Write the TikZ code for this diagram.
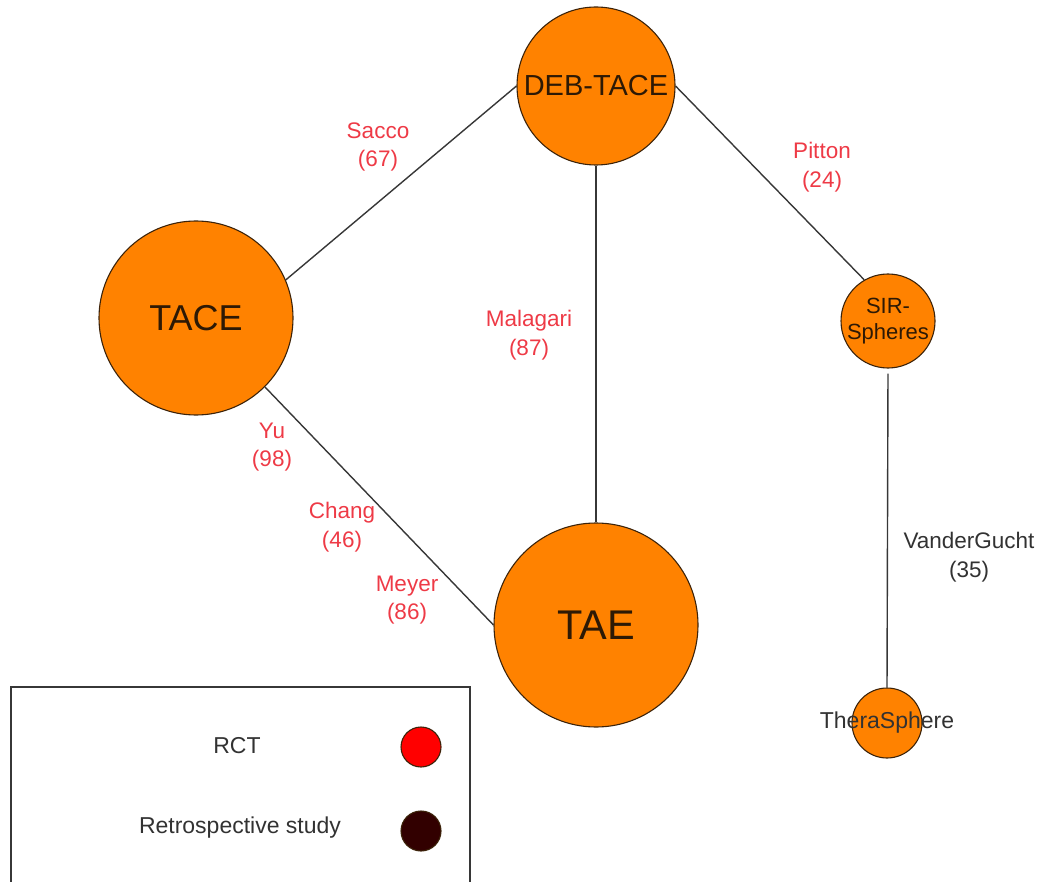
\documentclass[tikz,border=0pt]{standalone}
\usepackage{fontspec}
\setmainfont{Liberation Sans}
\definecolor{nodeorange}{RGB}{255,130,0}
\definecolor{nodeborder}{RGB}{60,35,10}
\definecolor{nodetext}{RGB}{45,25,5}
\definecolor{labred}{RGB}{238,58,70}
\definecolor{edgegray}{RGB}{55,55,55}
\definecolor{legtext}{RGB}{50,50,50}
\definecolor{retro}{RGB}{50,0,0}
\tikzset{
  bubble/.style={circle, fill=nodeorange, draw=nodeborder, line width=1.1pt, inner sep=0pt},
  bubtext/.style={text=nodetext, align=center, inner sep=0pt},
  edgelab/.style={text=labred, align=center, font=\fontsize{22.5}{28.5}\selectfont, inner sep=0pt},
  conn/.style={draw=edgegray, line width=1.4pt},
  legcirc/.style={circle, draw=nodeborder, line width=1.1pt, minimum size=40pt, inner sep=0pt},
  legtxt/.style={text=legtext, font=\fontsize{23}{26}\selectfont, inner sep=0pt}
}
\begin{document}
\begin{tikzpicture}[x=1pt,y=-1pt]
\useasboundingbox (0,0) rectangle (1043,882);
% nodes
\node[bubble, minimum size=158pt] (deb) at (596,86) {};
\node[bubble, minimum size=194pt] (tace) at (196,318) {};
\node[bubble, minimum size=204pt] (tae) at (596,625) {};
\node[bubble, minimum size=94pt] (sir) at (888,321) {};
\node[bubble, minimum size=70pt] (thera) at (887,723) {};
% node texts
\node[bubtext, font=\fontsize{29}{31}\selectfont] (debt) at (deb) {DEB-TACE};
\node[bubtext, font=\fontsize{36}{38}\selectfont] (tacet) at (tace) {TACE};
\node[bubtext, font=\fontsize{41.5}{44}\selectfont] (taet) at (tae) {TAE};
\node[bubtext, font=\fontsize{22}{25.5}\selectfont] (sirt) at (sir) {SIR-\\Spheres};
\node[bubtext, text=legtext, font=\fontsize{23}{25}\selectfont] (therat) at (thera) {TheraSphere};
% connectors
\draw[conn] (tace.23) -- (deb.west);
\draw[conn] (deb.east) -- (sir.120);
\draw[conn] (deb.south) -- (tae.north);
\draw[conn] (tace.-45) -- (tae.west);
\draw[conn, shorten <=5pt] (sir.south) -- (thera.north);
% edge labels
\node[edgelab] (lsacco) at (378,147) {Sacco\\(67)};
\node[edgelab] (lpitton) at (822,167) {Pitton\\(24)};
\node[edgelab] (lmalagari) at (529,335) {Malagari\\(87)};
\node[edgelab] (lyu) at (272,447) {Yu\\(98)};
\node[edgelab] (lchang) at (342,527) {Chang\\(46)};
\node[edgelab] (lmeyer) at (407,600) {Meyer\\(86)};
\node[edgelab, text=legtext] (lvander) at (969,557) {VanderGucht\\(35)};
% legend
\draw[draw=edgegray, line width=1.4pt] (11,883) -- (11,687) -- (470,687) -- (470,883);
\node[legtxt] (rct) at (237,746) {RCT};
\node[legtxt] (retrot) at (240,828) {Retrospective study};
\node[legcirc, fill=red] (rctc) at (421,747) {};
\node[legcirc, fill=retro] (retroc) at (421,831) {};
\end{tikzpicture}
\end{document}
